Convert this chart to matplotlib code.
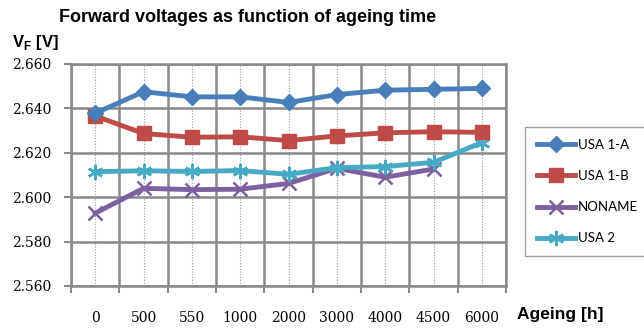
import numpy as np
import matplotlib
matplotlib.use('Agg')
import matplotlib.pyplot as plt

# Ageing time categories and forward voltages
hours = ['0', '500', '550', '1000', '2000', '3000', '4000', '4500', '6000']
usa_1a = [2.6378, 2.6475, 2.6452, 2.6452, 2.6427, 2.6462, 2.6482, 2.6486, 2.6490]
usa_1b = [2.6366, 2.6287, 2.6270, 2.6272, 2.6255, 2.6276, 2.6290, 2.6295, 2.6292]
noname = [2.5928, 2.6040, 2.6034, 2.6036, 2.6062, 2.6130, 2.6090, 2.6127, np.nan]
usa_2 = [2.6115, 2.6119, 2.6116, 2.6120, 2.6103, 2.6133, 2.6138, 2.6157, 2.6246]

fig = plt.figure(figsize=(6.44, 3.30), dpi=100)
ax = fig.add_axes([71 / 644, 1 - 286 / 330, 435 / 644, 222 / 330])

x = np.arange(len(hours))
ax.plot(x, usa_1a, color='#4A7EBB', lw=3.5, marker='D', ms=8.5, label='USA 1-A', zorder=5)
ax.plot(x, usa_1b, color='#BE4B48', lw=3.5, marker='s', ms=10.5, label='USA 1-B', zorder=4)
ax.plot(x, noname, color='#7D60A0', lw=3.5, marker='x', ms=10, mew=1.8, label='NONAME', zorder=3)
ax.plot(x, usa_2, color='#46AAC5', lw=3.5, marker=(6, 2, 0), ms=11, mew=1.8, label='USA 2', zorder=3)

ax.set_xlim(-0.5, 8.5)
ax.set_ylim(2.56, 2.66)
ax.set_yticks(np.arange(2.56, 2.661, 0.02))
ax.set_yticklabels(['%.3f' % v for v in np.arange(2.56, 2.661, 0.02)],
                   family='DejaVu Serif', fontsize=10)
ax.set_xticks(x)
ax.set_xticklabels(hours, family='DejaVu Serif', fontsize=10)
ax.set_xticks(np.arange(-0.5, 9, 1), minor=True)

grid_col = '#898989'
ax.tick_params(axis='x', which='major', length=0, pad=18)
ax.tick_params(axis='x', which='minor', length=5, width=1.5, color=grid_col)
ax.tick_params(axis='y', length=5, width=1.5, color=grid_col, pad=9)
ax.grid(axis='y', color=grid_col, lw=1.8)
ax.grid(axis='x', which='minor', color=grid_col, lw=1.8)
ax.grid(axis='x', which='major', color='#9a9a9a', lw=0.8, ls=(0, (1, 1.5)))
ax.set_axisbelow(True)
for s in ax.spines.values():
    s.set_color(grid_col)
    s.set_linewidth(1.8)

fig.text(248 / 644, 1 - 18 / 330, 'Forward voltages as function of ageing time',
         ha='center', va='center', fontsize=13, fontweight='bold', family='Liberation Sans')
fig.text(12 / 644, 1 - 42 / 330, r'V$_\mathregular{F}$ [V]', ha='left', va='center',
         fontsize=12, fontweight='bold', family='Liberation Sans')
fig.text(517 / 644, 1 - 315 / 330, 'Ageing [h]', ha='left', va='center',
         fontsize=12.5, fontweight='bold', family='Liberation Sans')

leg = fig.legend(loc='upper left', bbox_to_anchor=(525 / 644, 1 - 127 / 330),
                 prop={'family': 'Lato', 'size': 9.5}, handlelength=2.9,
                 labelspacing=1.45, handletextpad=0.2, borderpad=0.9,
                 fancybox=False, frameon=True, borderaxespad=0)
leg.get_frame().set_edgecolor('#8a8a8a')
leg.get_frame().set_linewidth(1.0)

fig.savefig('out.png', dpi=100)
